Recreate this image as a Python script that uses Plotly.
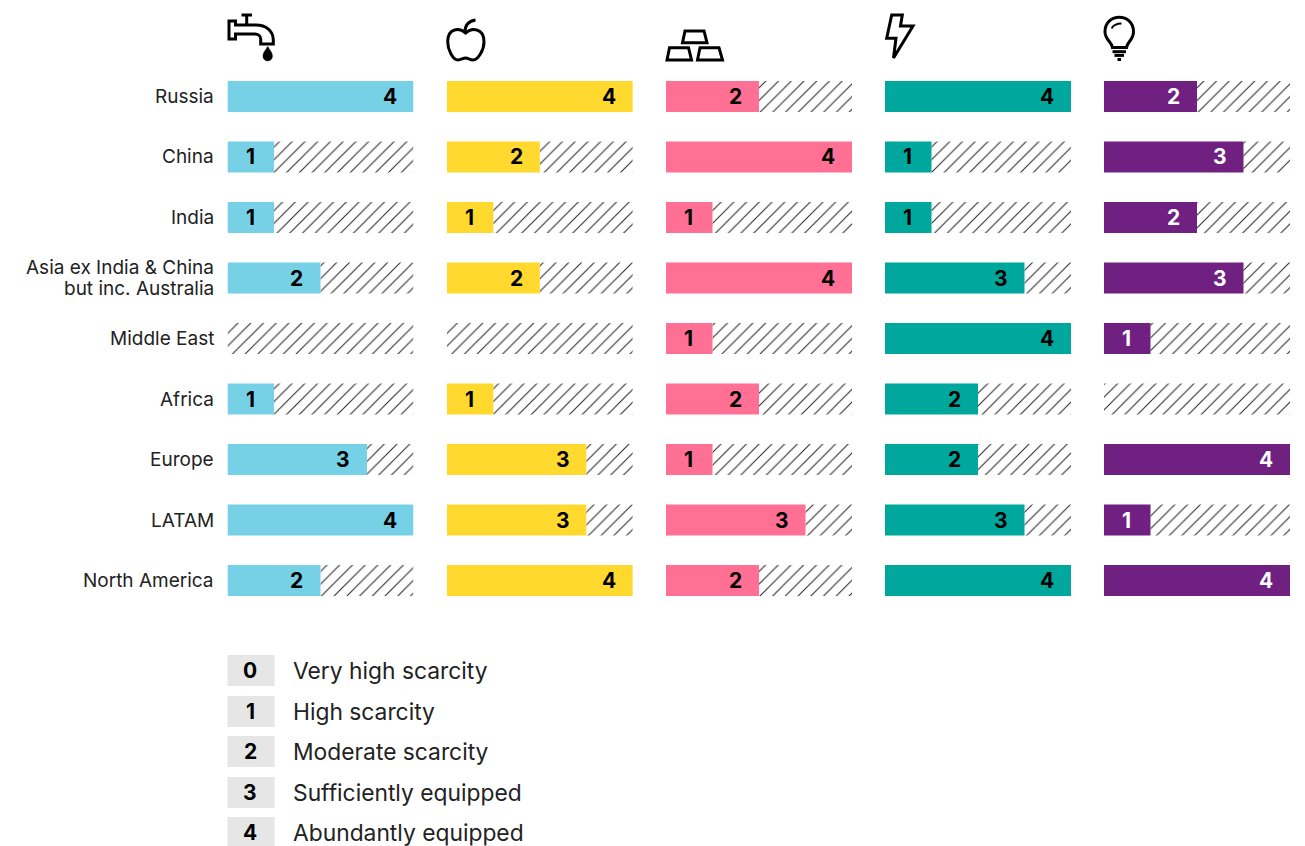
import plotly.graph_objects as go

W, H = 1305, 846
regions = ["Russia", "China", "India", "Asia ex India & China<br>but inc. Australia", "Middle East",
           "Africa", "Europe", "LATAM", "North America"]
water = [4, 1, 1, 2, 0, 1, 3, 4, 2]
food = [4, 2, 1, 2, 0, 1, 3, 3, 4]
metals = [2, 4, 1, 4, 1, 2, 1, 3, 2]
energy = [4, 1, 1, 3, 4, 2, 2, 3, 4]
tech = [2, 3, 2, 3, 1, 0, 4, 1, 4]
series = [water, food, metals, energy, tech]
colors = ["#76D1E6", "#FFD92E", "#FF7094", "#00A79D", "#6F2080"]
label_colors = ["#000000", "#000000", "#000000", "#000000", "#FFFFFF"]
panel_left = [227.5, 446.8, 666, 885, 1104]
legend_codes = ["0", "1", "2", "3", "4"]
legend_labels = ["Very high scarcity", "High scarcity", "Moderate scarcity", "Sufficiently equipped", "Abundantly equipped"]
legend_tops = [655, 696, 736, 777, 817]
scale_max = 4

FONT = "Inter"
TEXT = "#222222"
PANEL_W = 186


def X(x):
    return x / W


def Y(y):
    return 1 - y / H


def path(cmds):
    out = []
    for c in cmds:
        if isinstance(c, str):
            out.append(c)
        else:
            out.append("%s %.5f %.5f" % (c[0], X(c[1]), Y(c[2])) if len(c) == 3 else
                       "C " + ", ".join("%.5f %.5f" % (X(c[i]), Y(c[i + 1])) for i in (1, 3, 5)))
    return " ".join(out)


def icon(cmds, fill="rgba(0,0,0,0)", width=3):
    return dict(type="path", xref="paper", yref="paper", path=path(cmds), fillcolor=fill,
                line=dict(color="#000000", width=width))


shapes = [
    # tap
    icon([("M", 241.5, 15), ("L", 252, 15), ("M", 246.7, 15), ("L", 246.7, 25)]),
    icon([("M", 229, 21), ("L", 235.5, 21), ("L", 235.5, 25), ("L", 256, 25),
          ("C", 266, 25, 273.3, 31, 273.3, 40), ("L", 273.3, 44), ("L", 260.7, 44), ("L", 260.7, 39),
          ("C", 260.7, 36, 258, 34, 255, 34), ("L", 235.5, 34), ("L", 235.5, 39), ("L", 229, 39), "Z"]),
    icon([("M", 267.7, 46.5), ("C", 265, 51, 263, 53, 263, 56), ("C", 263, 62.5, 272.4, 62.5, 272.4, 56),
          ("C", 272.4, 53, 270.4, 51, 267.7, 46.5), "Z"], fill="#000000", width=0.5),
    # apple
    icon([("M", 465.7, 33), ("C", 460, 28, 447.7, 27, 447.7, 42), ("C", 447.7, 50, 453, 60, 458, 60),
          ("C", 461, 60, 463, 58, 465.7, 58), ("C", 468, 58, 470, 60, 473, 60),
          ("C", 478, 60, 484, 50, 484, 42), ("C", 484, 27, 471, 28, 465.7, 33), "Z"]),
    icon([("M", 465, 32), ("C", 465, 25, 469, 21, 475.5, 20)]),
    # gold bars
    icon([("M", 682.5, 42.7), ("L", 685, 31), ("L", 704, 31), ("L", 707, 42.7), "Z"]),
    icon([("M", 667, 60), ("L", 669.5, 47.7), ("L", 688.5, 47.7), ("L", 691.5, 60), "Z"]),
    icon([("M", 697.5, 60), ("L", 700, 47.7), ("L", 719, 47.7), ("L", 722.5, 60), "Z"]),
    # bolt
    icon([("M", 891.7, 15), ("L", 902.3, 15), ("L", 900.5, 26), ("L", 913, 26), ("L", 893.5, 58),
          ("L", 896, 38.3), ("L", 886.7, 38.3), "Z"]),
    # bulb
    icon([("M", 1112.5, 47.5), ("C", 1112, 42, 1105, 40, 1105, 31.7), ("C", 1105, 12.5, 1133.5, 12.5, 1133.5, 31.7),
          ("C", 1133.5, 40, 1127, 42, 1126.5, 47.5), "Z"]),
    icon([("M", 1111.7, 28.5), ("C", 1112.5, 25.5, 1117, 23.5, 1121.5, 23.5)], width=2),
    icon([("M", 1112.5, 51.7), ("L", 1126, 51.7)]),
    icon([("M", 1114.5, 55.4), ("L", 1124, 55.4)]),
    icon([("M", 1117.5, 59.5), ("L", 1121, 59.5)]),
]

annotations = []
for code, label, top in zip(legend_codes, legend_labels, legend_tops):
    shapes.append(dict(type="rect", xref="paper", yref="paper", x0=X(227.5), x1=X(274.5), y0=Y(top), y1=Y(top + 31),
                       fillcolor="#E6E6E6", line=dict(width=0), layer="below"))
    annotations.append(dict(xref="paper", yref="paper", x=X(250), y=Y(top + 15.5), text="<b>%s</b>" % code,
                            showarrow=False, xanchor="center", yanchor="middle",
                            font=dict(family=FONT, size=21, color="#000000")))
    annotations.append(dict(xref="paper", yref="paper", x=X(290.5), y=Y(top + 15.5), text=label,
                            showarrow=False, xanchor="left", yanchor="middle",
                            font=dict(family=FONT, size=22.8, color=TEXT)))

# Row labels: real text placed against the first panel's category axis
for r in regions:
    parts = r.split("<br>")
    for k, part in enumerate(parts):
        annotations.append(dict(xref="paper", yref="y", x=X(215.5), y=r, text=part, showarrow=False,
                                xanchor="right", yanchor="middle",
                                yshift=(len(parts) - 1) * 10.5 - k * 21,
                                font=dict(family=FONT, size=19, color=TEXT)))

fig = go.Figure()
layout_axes = {}
for i, (vals, col, lcol, left) in enumerate(zip(series, colors, label_colors, panel_left)):
    n = "" if i == 0 else str(i + 1)
    xa, ya = "x" + n, "y" + n
    fig.add_trace(go.Bar(x=[scale_max - v for v in vals], base=vals, y=regions, orientation="h", width=0.512,
                         xaxis=xa, yaxis=ya,
                         marker=dict(color="#FFFFFF", line=dict(width=0),
                                     pattern=dict(shape="/", size=9, solidity=0.11, fgcolor="#222222",
                                                  bgcolor="#FFFFFF", fillmode="replace")),
                         hoverinfo="skip", showlegend=False))
    fig.add_trace(go.Bar(x=vals, y=regions, orientation="h", width=0.512, xaxis=xa, yaxis=ya,
                         marker=dict(color=col, line=dict(width=0)), showlegend=False))
    for v, r in zip(vals, regions):
        if v > 0:
            annotations.append(dict(xref=xa, yref=ya, x=v - 0.5, y=r, text="<b>%d</b>" % v, showarrow=False,
                                    xanchor="center", yanchor="middle", xshift=-0.5, yshift=0,
                                    font=dict(family=FONT, size=21, color=lcol)))
    layout_axes["xaxis" + n] = dict(domain=[X(left), X(left + PANEL_W)], range=[0, scale_max], visible=False,
                                    fixedrange=True, anchor=ya)
    layout_axes["yaxis" + n] = dict(domain=[Y(610.75), Y(66.25)], type="category", categoryorder="array",
                                    categoryarray=regions, range=[8.5, -0.5], anchor=xa, fixedrange=True,
                                    showgrid=False, zeroline=False, showline=False,
                                    showticklabels=False, ticks="")

fig.update_layout(width=W, height=H, margin=dict(l=0, r=0, t=0, b=0), paper_bgcolor="#FFFFFF",
                  plot_bgcolor="#FFFFFF", barmode="overlay", shapes=shapes, annotations=annotations,
                  **layout_axes)
fig.write_html("out.html", config=dict(displayModeBar=False),
               post_script="document.body.style.margin='0';document.body.style.overflow='hidden';")
